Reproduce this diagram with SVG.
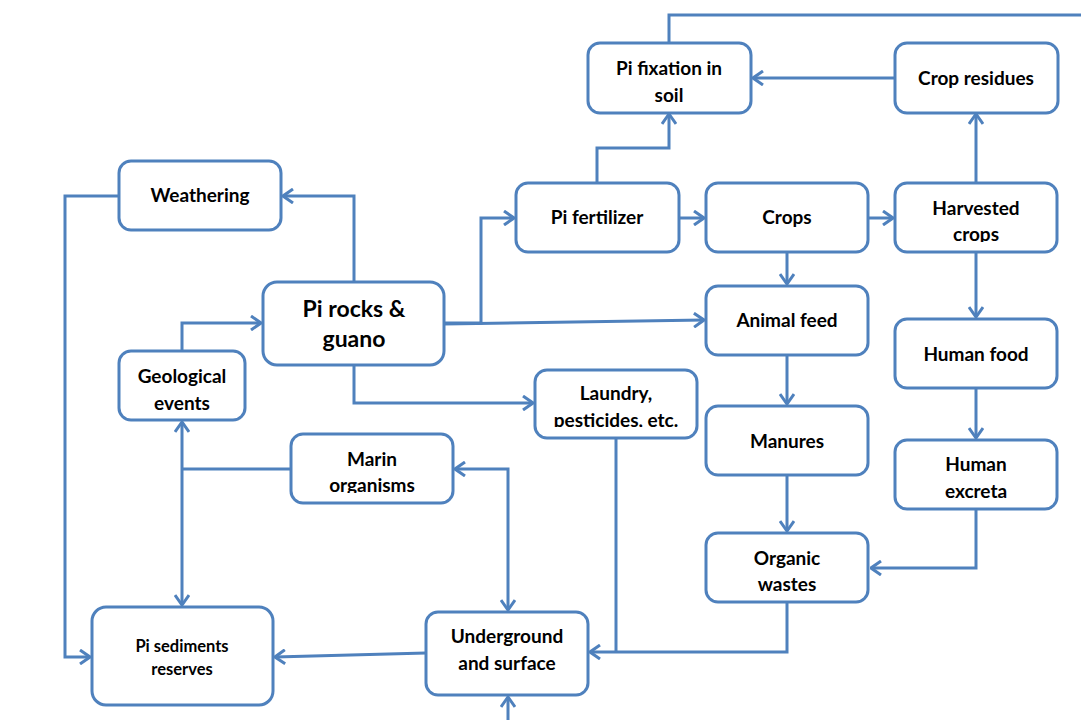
<svg xmlns="http://www.w3.org/2000/svg" width="1081" height="720" viewBox="0 0 1081 720">
<defs>
<style>
.box{fill:#fff;stroke:#4F81BD;stroke-width:3}
.c{fill:none;stroke:#4F81BD;stroke-width:3}
text{font-family:Lato,"Liberation Sans",sans-serif;font-weight:bold;font-size:19px;fill:#000;text-anchor:middle}
</style>
<marker id="a" viewBox="0 0 12 16" refX="11" refY="8" markerWidth="12" markerHeight="16" markerUnits="userSpaceOnUse" orient="auto-start-reverse">
<path d="M1,1 L11,8 L1,15" fill="none" stroke="#4F81BD" stroke-width="3"/>
</marker>
<clipPath id="cl1"><rect x="895" y="183" width="162" height="59"/></clipPath>
<clipPath id="cl2"><rect x="535" y="370" width="162" height="57"/></clipPath>
<clipPath id="cl3"><rect x="291" y="434" width="162" height="59"/></clipPath>
</defs>
<rect width="1081" height="720" fill="#fff"/>
<g id="connectors">
<path class="c" d="M669,43 V15 H1081"/>
<path class="c" d="M895,78 H753" marker-end="url(#a)"/>
<path class="c" d="M597,183 V148 H669 V114" marker-end="url(#a)"/>
<path class="c" d="M976,183 V114" marker-end="url(#a)"/>
<path class="c" d="M119,196 H65 V657 H90" marker-end="url(#a)"/>
<path class="c" d="M354,282 V196 H283" marker-end="url(#a)"/>
<path class="c" d="M182,351 V323 H261" marker-end="url(#a)"/>
<path class="c" d="M444,323 H481 V218 H514" marker-end="url(#a)"/>
<path class="c" d="M444,324 L704,320" marker-end="url(#a)"/>
<path class="c" d="M354,365 V403 H533" marker-end="url(#a)"/>
<path class="c" d="M679,218 H704" marker-end="url(#a)"/>
<path class="c" d="M868,218 H893" marker-end="url(#a)"/>
<path class="c" d="M787,252 V284" marker-end="url(#a)"/>
<path class="c" d="M787,355 V404" marker-end="url(#a)"/>
<path class="c" d="M787,475 V531" marker-end="url(#a)"/>
<path class="c" d="M976,252 V317" marker-end="url(#a)"/>
<path class="c" d="M976,388 V438" marker-end="url(#a)"/>
<path class="c" d="M976,509 V568 H871" marker-end="url(#a)"/>
<path class="c" d="M787,602 V652 H590" marker-end="url(#a)"/>
<path class="c" d="M616,438 V652"/>
<path class="c" d="M182,422 V605" marker-start="url(#a)" marker-end="url(#a)"/>
<path class="c" d="M291,469 H182"/>
<path class="c" d="M455,469 H508 V610" marker-start="url(#a)" marker-end="url(#a)"/>
<path class="c" d="M426,653 L275,657" marker-end="url(#a)"/>
<path class="c" d="M508,720 V697" marker-end="url(#a)"/>
</g>
<g id="n-fixation"><rect class="box" x="588" y="43" width="163" height="70" rx="12"/><text x="669" y="75">Pi fixation in</text><text x="669" y="102">soil</text></g>
<g id="n-residues"><rect class="box" x="895" y="43" width="163" height="70" rx="12"/><text x="976" y="85">Crop residues</text></g>
<g id="n-weathering"><rect class="box" x="119" y="161" width="162" height="69" rx="12"/><text x="200" y="202">Weathering</text></g>
<g id="n-rocks"><rect class="box" x="263" y="282" width="181" height="83" rx="14"/><text x="354" y="317" style="font-size:23px">Pi rocks &amp;</text><text x="354" y="347" style="font-size:23px">guano</text></g>
<g id="n-geo"><rect class="box" x="119" y="351" width="126" height="69" rx="12"/><text x="182" y="383">Geological</text><text x="182" y="410">events</text></g>
<g id="n-fert"><rect class="box" x="516" y="183" width="163" height="69" rx="12"/><text x="597" y="224">Pi fertilizer</text></g>
<g id="n-crops"><rect class="box" x="706" y="183" width="162" height="69" rx="12"/><text x="787" y="224">Crops</text></g>
<g id="n-harvested"><rect class="box" x="895" y="183" width="162" height="69" rx="12"/><g clip-path="url(#cl1)"><text x="976" y="215">Harvested</text><text x="976" y="241">crops</text></g></g>
<g id="n-feed"><rect class="box" x="706" y="286" width="162" height="69" rx="12"/><text x="787" y="327">Animal feed</text></g>
<g id="n-humanfood"><rect class="box" x="895" y="319" width="162" height="69" rx="12"/><text x="976" y="361">Human food</text></g>
<g id="n-laundry"><rect class="box" x="535" y="370" width="162" height="68" rx="12"/><g clip-path="url(#cl2)"><text x="616" y="400">Laundry,</text><text x="616" y="427">pesticides, etc.</text></g></g>
<g id="n-manures"><rect class="box" x="706" y="406" width="162" height="69" rx="12"/><text x="787" y="448">Manures</text></g>
<g id="n-excreta"><rect class="box" x="895" y="440" width="162" height="69" rx="12"/><text x="976" y="471">Human</text><text x="976" y="498">excreta</text></g>
<g id="n-organic"><rect class="box" x="706" y="533" width="162" height="69" rx="12"/><text x="787" y="565">Organic</text><text x="787" y="591">wastes</text></g>
<g id="n-marin"><rect class="box" x="291" y="434" width="162" height="69" rx="12"/><g clip-path="url(#cl3)"><text x="372" y="466">Marin</text><text x="372" y="492">organisms</text></g></g>
<g id="n-sediments"><rect class="box" x="92" y="607" width="181" height="98" rx="14"/><text x="182" y="652" style="font-size:16.5px">Pi sediments</text><text x="182" y="675" style="font-size:16.5px">reserves</text></g>
<g id="n-underground"><rect class="box" x="426" y="612" width="162" height="83" rx="12"/><text x="507" y="643">Underground</text><text x="507" y="670">and surface</text></g>
</svg>
